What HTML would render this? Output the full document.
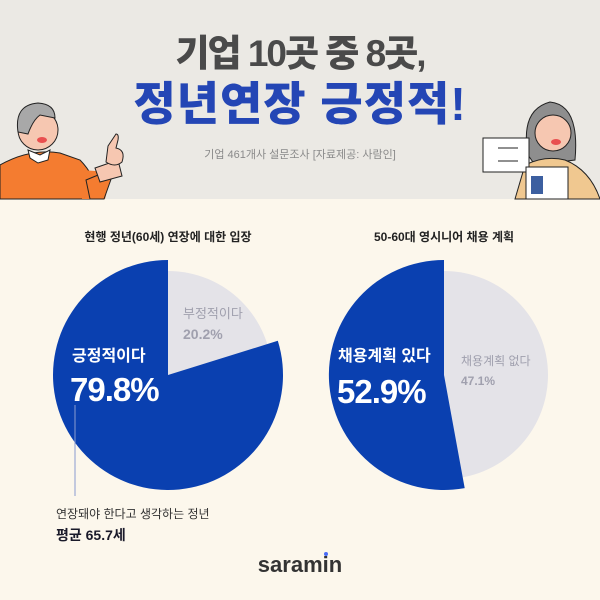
<!DOCTYPE html>
<html><head><meta charset="utf-8"><style>
body{margin:0;width:600px;height:600px;overflow:hidden;font-family:"Liberation Sans","Noto Sans CJK KR",sans-serif}
</style></head><body>
<svg width="600" height="600" viewBox="0 0 600 600" xmlns="http://www.w3.org/2000/svg" style="display:block;font-family:'Liberation Sans','Noto Sans CJK KR',sans-serif">
<rect width="600" height="600" fill="#fcf7ec"/>
<rect width="600" height="199" fill="#ebe9e4"/>
<text x="300" y="66" text-anchor="middle" font-size="37" font-weight="900" fill="#4a4a4a" letter-spacing="-2">기업 10곳 중 8곳,</text>
<text x="300" y="120" text-anchor="middle" font-size="46" font-weight="900" fill="#2446b5" letter-spacing="1">정년연장 긍정적!</text>
<text x="300" y="158" text-anchor="middle" font-size="11" fill="#8a8a8a">기업 461개사 설문조사  [자료제공: 사람인]</text>
<!-- left man -->
<path d="M0 165 Q30 148 60 153 L80 160 Q95 175 100 199 L0 199Z" fill="#f47c30" stroke="#222" stroke-width="1"/>
<path d="M80 170 L112 172 L105 199 L82 199Z" fill="#f47c30"/>
<path d="M86 180 L115 168 L104 199 L90 199Z" fill="#f47c30" stroke="#222" stroke-width="1"/>
<path d="M95 168 L118 160 L122 176 L100 182Z" fill="#f6c7b1" stroke="#222" stroke-width="1"/>
<path d="M108 146 L116 134 Q119 134 118 140 L116 148 Q126 150 122 162 Q115 168 106 162 Z" fill="#f6c7b1" stroke="#222" stroke-width="1"/>
<path d="M28 150 L40 155 L50 150 L48 160 L38 163 L30 158Z" fill="#fff" stroke="#222" stroke-width="1"/>
<circle cx="38" cy="130" r="20" fill="#f6c7b1" stroke="#222" stroke-width="1"/>
<path d="M18 132 Q14 105 38 103 Q55 104 55 118 L40 115 Q33 120 28 134Z" fill="#a8a8a8" stroke="#222" stroke-width="1"/>
<ellipse cx="42" cy="140" rx="5" ry="3" fill="#e94f4f"/>
<!-- right woman -->
<path d="M528 155 Q520 110 550 102 Q580 105 575 160 L535 165Z" fill="#8e8e8e" stroke="#222" stroke-width="1"/>
<path d="M525 165 Q545 155 565 160 Q590 170 600 199 L515 199Z" fill="#f0c890" stroke="#222" stroke-width="1"/>
<circle cx="553" cy="133" r="18" fill="#f6c7b1" stroke="#222" stroke-width="1"/>
<ellipse cx="556" cy="142" rx="5" ry="3" fill="#e94f4f"/>
<rect x="483" y="138" width="46" height="34" fill="#fff" stroke="#222" stroke-width="1"/>
<line x1="498" y1="148" x2="518" y2="148" stroke="#222"/><line x1="498" y1="161" x2="518" y2="161" stroke="#222"/>
<rect x="526" y="167" width="42" height="32" fill="#fff" stroke="#222" stroke-width="1"/>
<rect x="531" y="176" width="12" height="18" fill="#3c5fa0"/>
<!-- titles -->
<text x="168" y="241" text-anchor="middle" font-size="12" font-weight="700" fill="#222">현행 정년(60세) 연장에 대한 입장</text>
<text x="444" y="241" text-anchor="middle" font-size="12" font-weight="700" fill="#222">50-60대 영시니어 채용 계획</text>
<!-- left pie -->
<circle cx="168" cy="375" r="104" fill="#e4e3e8"/>
<path d="M168 375 L168 260 A115 115 0 1 0 277.8 340.8 Z" fill="#0a40b0"/>
<text x="183" y="318" font-size="13" fill="#a0a0ae">부정적이다</text>
<text x="183" y="339" font-size="14" font-weight="700" fill="#a0a0ae">20.2%</text>
<text x="72" y="361" font-size="16" font-weight="700" fill="#fff">긍정적이다</text>
<text x="70" y="401" font-size="33" font-weight="700" fill="#fff" letter-spacing="-1">79.8%</text>
<line x1="75" y1="405" x2="75" y2="496" stroke="#8a9bd0" stroke-width="1"/>
<text x="56" y="518" font-size="12" fill="#333">연장돼야 한다고 생각하는 정년</text>
<text x="56" y="540" font-size="14" font-weight="700" fill="#1a1a2a">평균 65.7세</text>
<!-- right pie -->
<circle cx="444" cy="375" r="104" fill="#e4e3e8"/>
<path d="M444 375 L444 260 A115 115 0 1 0 464.7 488.1 Z" fill="#0a40b0"/>
<text x="461" y="365" font-size="12" fill="#a0a0ae">채용계획 없다</text>
<text x="461" y="385" font-size="12" font-weight="700" fill="#a0a0ae">47.1%</text>
<text x="338" y="361" font-size="16" font-weight="700" fill="#fff">채용계획 있다</text>
<text x="337" y="403" font-size="33" font-weight="700" fill="#fff" letter-spacing="-1">52.9%</text>
<!-- logo -->
<text x="300" y="572" text-anchor="middle" font-size="22" font-weight="700" fill="#333">saramin</text>
<circle cx="326" cy="554" r="2" fill="#4a6cf7"/>
</svg>
</body></html>
